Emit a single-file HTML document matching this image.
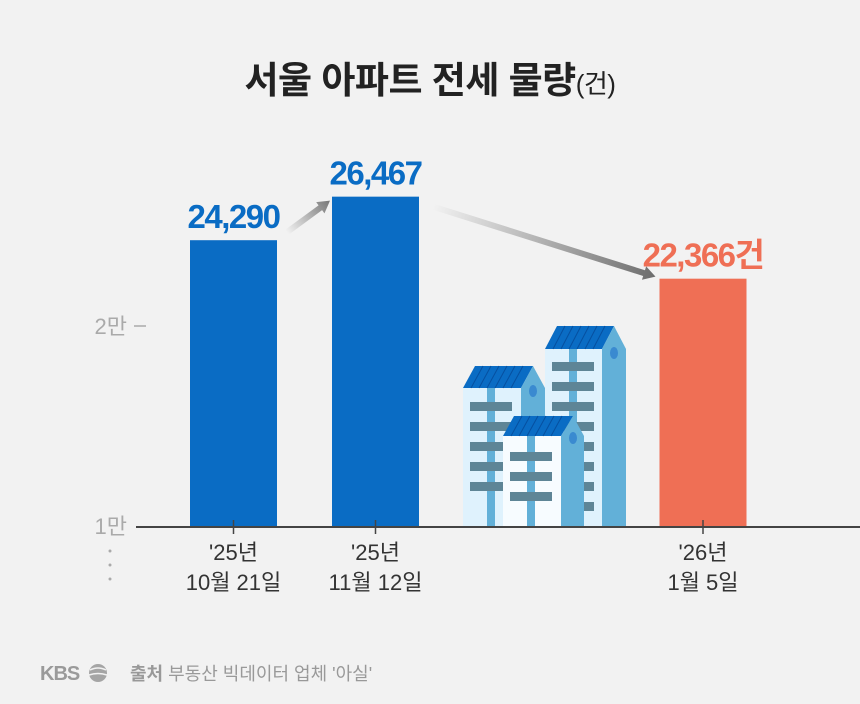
<!DOCTYPE html>
<html><head><meta charset="utf-8"><style>
body{margin:0;background:#f2f2f2;}
svg{display:block;font-family:"Liberation Sans","Noto Sans CJK KR",sans-serif;}
</style></head><body>
<svg id="c" width="860" height="704" viewBox="0 0 860 704">
<rect width="860" height="704" fill="#f2f2f2"/>
<text x="430" y="93" text-anchor="middle" font-size="37" font-weight="bold" fill="#222" letter-spacing="-0.5">서울 아파트 전세 물량<tspan font-size="26" font-weight="normal">(건)</tspan></text>
<defs>
<linearGradient id="g1" x1="0" x2="1"><stop offset="0" stop-color="#f2f2f2"/><stop offset="1" stop-color="#777"/></linearGradient>
<linearGradient id="g2" x1="0" x2="1"><stop offset="0" stop-color="#f2f2f2"/><stop offset="1" stop-color="#6d6d6d"/></linearGradient>
</defs>
<g id="buildings">
 <polygon points="545,349 557,326 614,326 602,349" fill="#0a6cc4"/>
 <polygon points="602,349 614,326 626,349 626,527 602,527" fill="#62b0d8"/>
 <rect x="545" y="349" width="57" height="178" fill="#dff2fd"/>
 <rect x="569" y="349" width="8" height="178" fill="#62b0d8"/>
 <polygon points="463,388 475,366 533,366 521,388" fill="#0a6cc4"/>
 <polygon points="521,388 533,366 545,388 545,527 521,527" fill="#62b0d8"/>
 <rect x="463" y="388" width="58" height="139" fill="#dff2fd"/>
 <rect x="487" y="388" width="8" height="139" fill="#62b0d8"/>
 <ellipse cx="533" cy="391" rx="4" ry="6" fill="#3a8ad0"/>
 <ellipse cx="614" cy="353" rx="4" ry="6" fill="#3a8ad0"/>
 <g id="winBack" fill="#5e8596"></g>
 <polygon points="503,436 514,416 573,416 561,436" fill="#0a6cc4"/>
 <polygon points="561,436 573,416 584,436 584,527 561,527" fill="#62b0d8"/>
 <rect x="503" y="436" width="58" height="91" fill="#f7fcff"/>
 <rect x="527" y="436" width="8" height="91" fill="#62b0d8"/>
 <ellipse cx="573" cy="438" rx="4" ry="6" fill="#3a8ad0"/>
 <g id="winFront" fill="#5e8596"></g>
 <g id="roofLines" stroke="#0650a0" stroke-width="1"></g>
</g>
<g id="marks"></g>
<line x1="136" y1="527" x2="860" y2="527" stroke="#444" stroke-width="2"/>
<g id="ticks"></g>
<g fill="#aaa">
 <circle cx="110" cy="551" r="1.5"/><circle cx="110" cy="565" r="1.5"/><circle cx="110" cy="579" r="1.5"/>
</g>
<g id="footer">
 <text x="40" y="680" font-size="20" font-weight="bold" fill="#9a9a9a" letter-spacing="-1">KBS</text>
 <circle cx="98" cy="673" r="9" fill="#a5a5a5"/>
 <path d="M90 670 Q98 666 106 670 M89 675 Q98 672 107 675" stroke="#f2f2f2" stroke-width="1.5" fill="none"/>
 <text x="130" y="680" font-size="18" fill="#999"><tspan font-weight="bold">출처</tspan> 부동산 빅데이터 업체 '아실'</text>
</g>
</svg>
<script>
const categories=["'25년|10월 21일","'25년|11월 12일","'26년|1월 5일"];
const values=[24290,26467,22366];
const valueLabels=["24,290","26,467","22,366건"];
const yTicks=[10000,20000];
const yTickLabels=["1만","2만"];
const NS="http://www.w3.org/2000/svg";
const xCenter=[233.5,375.5,703];
const barW=87;
function y(v){return 526-(v-10000)*0.02;}
function mk(t,a,p){const e=document.createElementNS(NS,t);for(const k in a)e.setAttribute(k,a[k]);p.appendChild(e);return e;}
const g=document.getElementById('marks'),tk=document.getElementById('ticks');
values.forEach((v,i)=>{
 const last=i===values.length-1;
 const r=mk('rect',{x:xCenter[i]-barW/2,y:y(v),width:barW,height:527-y(v),fill:last?'#ef6f55':'#0a6cc4'},g);
 
 
 const t=mk('text',{x:xCenter[i],y:y(v)-12,'text-anchor':'middle','font-size':33,'font-weight':'bold',fill:last?'#ef6f55':'#0a6cc4','letter-spacing':'-1.5'},g);
 t.textContent=valueLabels[i];
 
 
 mk('line',{x1:xCenter[i],y1:520,x2:xCenter[i],y2:534,stroke:'#444','stroke-width':1.5},tk);
 const parts=categories[i].split('|');
 parts.forEach((p,j)=>{
  const c=mk('text',{x:xCenter[i],y:560+j*30,'text-anchor':'middle','font-size':22,fill:'#333'},tk);
  c.textContent=p;
  
  
 });
});
yTicks.forEach((v,i)=>{
 const t=mk('text',{x:127,y:y(v)+8,'text-anchor':'end','font-size':22,fill:'#aaa'},tk);
 t.textContent=yTickLabels[i];
 
 
 if(i>0)mk('line',{x1:134,y1:y(v),x2:146,y2:y(v),stroke:'#aaa','stroke-width':1.5},tk);
});
function arrow(x1,y1,x2,y2,grad){
 const ang=Math.atan2(y2-y1,x2-x1),L=Math.hypot(x2-x1,y2-y1);
 const a=mk('g',{transform:`translate(${x1},${y1}) rotate(${ang*180/Math.PI})`},g);
 mk('polygon',{points:`0,-3 ${L-12},-3 ${L-12},-7 ${L},0 ${L-12},7 ${L-12},3 0,3`,fill:grad},a);
 
 
}
arrow(xCenter[0]+barW/2+10,y(values[0])-8,xCenter[1]-barW/2-2,y(values[1])+4,'url(#g1)');
arrow(xCenter[1]+barW/2+14,y(values[1])+10,xCenter[2]-barW/2-4,y(values[2])-2,'url(#g2)');
const wb=document.getElementById('winBack'),wf=document.getElementById('winFront'),rl=document.getElementById('roofLines');
for(let k=0;k<8;k++){mk('rect',{x:552,y:362+k*20,width:42,height:9},wb);}
for(let k=0;k<5;k++){mk('rect',{x:470,y:402+k*20,width:42,height:9},wb);}
for(let k=0;k<3;k++){mk('rect',{x:510,y:452+k*20,width:42,height:9},wf);}
for(let k=1;k<7;k++){mk('line',{x1:557+k*8,y1:326,x2:545+k*8,y2:349},rl);mk('line',{x1:475+k*8,y1:366,x2:463+k*8,y2:388},rl);mk('line',{x1:514+k*8,y1:416,x2:503+k*8,y2:436},rl);}
</script>
</body></html>
